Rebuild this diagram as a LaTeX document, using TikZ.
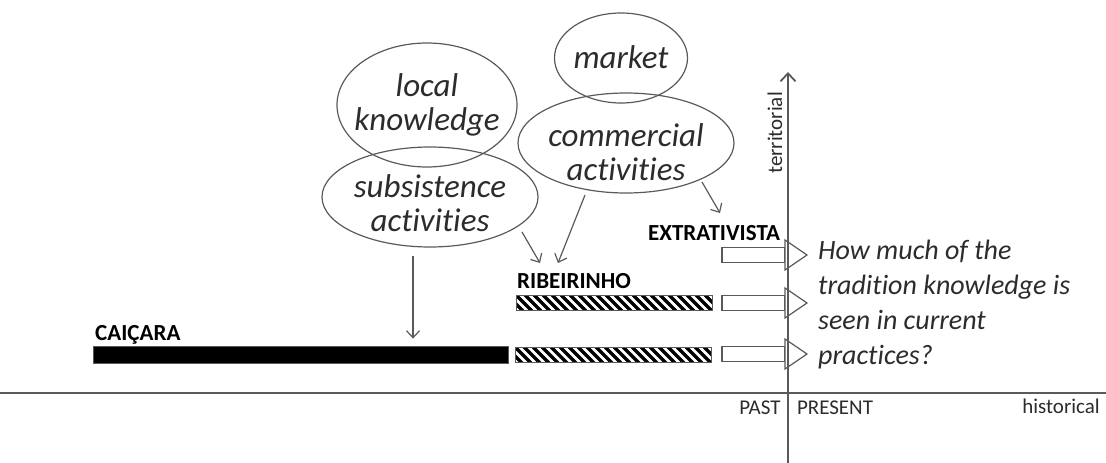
\documentclass[tikz,border=0pt]{standalone}
\usepackage{fontspec}
\setmainfont{Carlito}[Ligatures=NoCommon]
\usetikzlibrary{arrows.meta,shapes.geometric}
\definecolor{axisgray}{HTML}{5A5A5A}
\definecolor{textgray}{HTML}{2C2C2C}
\begin{document}
\begin{tikzpicture}[x=1pt,y=-1pt,
  ell/.style={draw=axisgray, line width=1.2pt, ellipse, inner sep=0pt},
  elltext/.style={font=\fontsize{33}{34}\selectfont\itshape, text=textgray, align=center, inner sep=0pt},
  lbl/.style={font=\fontsize{23}{26}\selectfont\bfseries, inner sep=0pt},
  axlbl/.style={font=\fontsize{21}{24}\selectfont, text=textgray, inner sep=0pt},
  conn/.style={draw=axisgray, line width=1.2pt, -{Straight Barb[length=7pt,width=13pt]}},
  axis/.style={draw=axisgray, line width=1.8pt},
  solidbar/.style={fill=black, draw=axisgray, line width=0.8pt, inner sep=0pt},
  hatchbar/.style={draw=axisgray, line width=0.8pt, inner sep=0pt, path picture={
      \foreach \i in {-3,...,24}{
        \draw[line width=3.4pt, black] ([xshift=\i*9pt]path picture bounding box.north west) -- ++(16pt,-16pt);
      }}},
  blockarrow/.style={draw=axisgray, fill=white, line width=1.2pt, line join=miter}
]
\useasboundingbox (0,0) rectangle (1106,463);

% ellipses
\node[ell, minimum width=180pt, minimum height=124pt] (lk) at (427,105) {};
\node[ell, minimum width=216pt, minimum height=100pt] (subs) at (430,197) {};
\node[ell, minimum width=133pt, minimum height=90pt] (mkt) at (621,58) {};
\node[ell, minimum width=216pt, minimum height=100pt] (comm) at (626,143) {};

\node[elltext] (lkt) at (427,105) {local\\knowledge};
\node[elltext] (subst) at (430,203) {subsistence\\activities};
\node[elltext] (mktt) at (621,57) {market};
\node[elltext] (commt) at (626,152) {commercial\\activities};

% bars
\node[solidbar, minimum width=415pt, minimum height=17pt] (caibar) at (300.5,354.5) {};
\node[hatchbar, minimum width=196pt, minimum height=15pt] (ribbar) at (614,302.5) {};
\node[hatchbar, minimum width=196pt, minimum height=15pt] (cont) at (613,354.5) {};

\node[lbl, anchor=base west] (cai) at (95,340) {CAIÇARA};
\node[lbl, anchor=base west] (rib) at (517,288) {RIBEIRINHO};
\node[lbl, anchor=base west] (ext) at (648,240) {EXTRATIVISTA};

% block arrows
\foreach \c in {255,303,354}{
  \draw[blockarrow] (722,\c-7.5) rectangle (785,\c+7.5);
  \draw[blockarrow] (785,\c-15) -- (807,\c) -- (785,\c+15) -- cycle;
}

% axes
\coordinate (hl) at (0,393);
\coordinate (hr) at (1106,393);
\coordinate (vb) at (788,463);
\coordinate (vt) at (788,72);
\draw[axis] (hl) -- (hr);
\draw[axis, -{Straight Barb[length=8pt,width=15pt]}] (vb) -- (vt);

\node[axlbl, rotate=90] (terr) at (775,133) {territorial};
\node[axlbl, anchor=base] (hist) at (1061,413) {historical};
\node[axlbl, anchor=base] (past) at (760,414) {PAST};
\node[axlbl, anchor=base] (pres) at (835,414) {PRESENT};

% question
\node[font=\fontsize{28}{35}\selectfont\itshape, text=textgray, align=left, anchor=north west, inner sep=0pt] (q) at (818,240)
  {How much of the\\tradition knowledge is\\seen in current\\practices?};

% connectors
\coordinate (s1) at (413,256);
\coordinate (s2) at (522,232);
\coordinate (e2) at (540,263);
\coordinate (s3) at (585,195);
\coordinate (e3) at (558,263);
\coordinate (s4) at (702,182);
\coordinate (e4) at (720,213);
\draw[conn, shorten >=7pt] (s1) -- (s1 |- caibar.north);
\draw[conn] (s2) -- (e2);
\draw[conn] (s3) -- (e3);
\draw[conn] (s4) -- (e4);
\end{tikzpicture}
\end{document}
